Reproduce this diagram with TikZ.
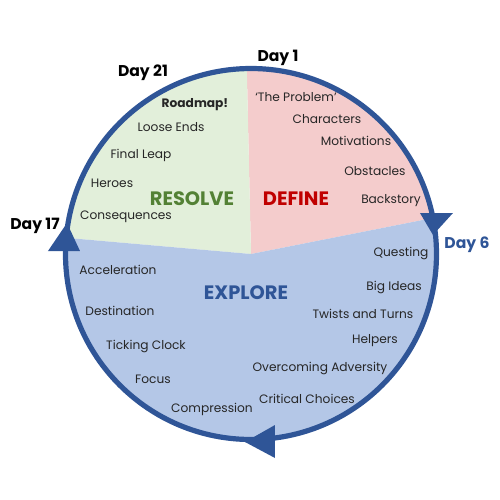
\documentclass[tikz,border=0pt]{standalone}
\usepackage{fontspec}
\setmainfont{Poppins}
\usetikzlibrary{positioning}
\definecolor{define}     {HTML}{F4CCCC}
\definecolor{resolve}    {HTML}{E2EFDA}
\definecolor{explore}    {HTML}{B4C7E7}
\definecolor{ring}       {HTML}{2F5597}
\definecolor{definetext} {HTML}{C00000}
\definecolor{resolvetext}{HTML}{538135}

\begin{document}
\begin{tikzpicture}[x=0.5pt, y=0.5pt,
    item/.style={font=\fontsize{6.1}{7}\selectfont, text=black!85, inner sep=0pt},
    phase/.style={font=\fontsize{9.7}{11}\selectfont\bfseries, inner sep=0pt},
    daylabel/.style={font=\fontsize{7.8}{9}\selectfont\bfseries, inner sep=0pt}]
  \useasboundingbox (-251,-246) rectangle (249,254);
  % the three phases
  \fill[define]  (0,0) -- (11.2:185.5) arc[start angle=11.2, end angle=91.3, radius=185.5] -- cycle;
  \fill[resolve] (0,0) -- (91.3:185.5) arc[start angle=91.3, end angle=175, radius=185.5] -- cycle;
  \fill[explore] (0,0) -- (175:185.5) arc[start angle=175, end angle=371.2, radius=185.5] -- cycle;
  \draw[ring, line width=2.6pt] (0,0) circle[radius=185.5];
  % arrow heads on the ring
  \fill[ring] (169,41) -- (202,41) -- (182,19) -- cycle;
  \fill[ring] (-203,3) -- (-171,3) -- (-184,31) -- cycle;
  \fill[ring] (24,-171) -- (24,-204) -- (-6,-188) -- cycle;
  % phase names
  \node[phase, text=resolvetext] (resolve) at (-59,55) {RESOLVE};
  \node[phase, text=definetext]  (define)  at (45,55)  {DEFINE};
  \node[phase, text=ring]        (explore) at (-5,-39) {EXPLORE};
  % days
  \node[daylabel]            (day1)  at (27,196)   {Day 1};
  \node[daylabel, text=ring] (day6)  at (216,9)    {Day 6};
  \node[daylabel]            (day17) at (-216,28)  {Day 17};
  \node[daylabel]            (day21) at (-108,181) {Day 21};
  % steps
  \node[item, font=\fontsize{6.1}{7}\selectfont\bfseries] (roadmap) at (-56,149) {Roadmap!};
  \foreach \x/\y/\t [count=\i] in
    {-80/127/Loose Ends, -110/99/Final Leap, -139/71/Heroes, -125/37/Consequences,
     45/157/`The Problem', 76/135/Characters, 105/113/Motivations, 124/83/Obstacles, 140/53/Backstory,
     150/1/Questing, 143/-33/Big Ideas, 112/-60/Twists and Turns, 124/-87/Helpers,
     69/-114/Overcoming Adversity, 56/-145/Critical Choices, -39/-155/Compression,
     -98/-125/Focus, -105/-92/Ticking Clock, -131/-57/Destination, -133/-16/Acceleration}
    {\node[item] (step\i) at (\x,\y) {\t};}
\end{tikzpicture}
\end{document}
